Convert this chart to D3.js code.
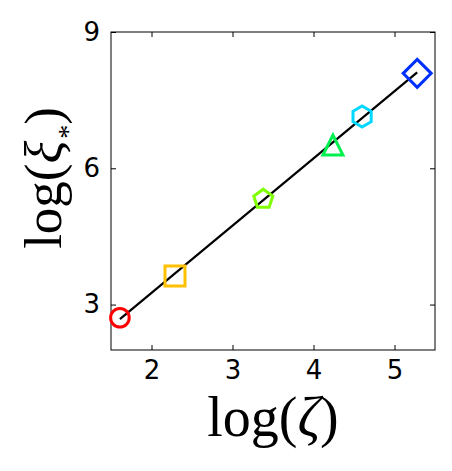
<!DOCTYPE html>
<html>
    <head>
        <script type="text/javascript" src="https://cdn.jsdelivr.net/npm/d3@7"></script>
        <style>
         body { margin: 0; background: #fff; }
        </style>
    </head>
    <body>
        <div id="viz"></div>

        <script type="text/javascript">

         // points
         var logZeta = [1.61, 2.29, 3.38, 4.24, 4.60, 5.28];
         var logXi = [2.71, 3.63, 5.32, 6.51, 7.14, 8.09];
         var shapes = ["circle", "square", "pentagon", "triangle", "hexagon", "diamond"];
         var colors = ["#ff0000", "#ffc000", "#80ff00", "#00f050", "#00d8ff", "#0030ff"];

         // fitted line ends
         var fitX = [1.61, 5.28];
         var fitY = [2.68, 8.11];

         var xTicks = [2, 3, 4, 5];
         var yTicks = [3, 6, 9];

         var W = 452, H = 471;
         // note: "top" is taken by window.top, so prefix these
         var pLeft = 111, pRight = 435, pTop = 32, pBottom = 350;

         var x = d3.scaleLinear().domain([1.5, 5.5]).range([pLeft, pRight]);
         var y = d3.scaleLinear().domain([2, 9]).range([pBottom, pTop]);

         var svg = d3.select("#viz").append("svg")
                     .attr("width", W)
                     .attr("height", H);

         /**
          * ticks go inward on all four sides, like old matplotlib
          */
         function styleAxis(g, hideText) {
             g.select(".domain").remove();
             g.selectAll(".tick line").attr("stroke", "#000").attr("stroke-width", 1);
             g.selectAll(".tick text")
              .attr("font-family", "DejaVu Sans")
              .attr("font-size", 26)
              .attr("fill", "#000");
             if (hideText) g.selectAll(".tick text").remove();
         }

         svg.append("g")
            .attr("transform", "translate(0," + pBottom + ")")
            .call(d3.axisBottom(x).tickValues(xTicks).tickFormat(d3.format("d"))
                    .tickSizeInner(-5).tickPadding(11))
            .call(styleAxis, false);

         svg.append("g")
            .attr("transform", "translate(0," + pTop + ")")
            .call(d3.axisTop(x).tickValues(xTicks).tickSizeInner(-5))
            .call(styleAxis, true);

         svg.append("g")
            .attr("transform", "translate(" + pLeft + ",0)")
            .call(d3.axisLeft(y).tickValues(yTicks).tickFormat(d3.format("d"))
                    .tickSizeInner(-5).tickPadding(11))
            .call(styleAxis, false);

         svg.append("g")
            .attr("transform", "translate(" + pRight + ",0)")
            .call(d3.axisRight(y).tickValues(yTicks).tickSizeInner(-5))
            .call(styleAxis, true);

         svg.append("rect")
            .attr("x", pLeft).attr("y", pTop)
            .attr("width", pRight - pLeft).attr("height", pBottom - pTop)
            .attr("fill", "none")
            .attr("stroke", "#000")
            .attr("stroke-width", 1);

         // fit line
         svg.append("line")
            .attr("x1", x(fitX[0])).attr("y1", y(fitY[0]))
            .attr("x2", x(fitX[1])).attr("y2", y(fitY[1]))
            .attr("stroke", "#000")
            .attr("stroke-width", 2.2);

         function polygon(n, r, rot) {
             var pts = [];
             for (var i = 0; i < n; i++) {
                 var a = rot + i * 2 * Math.PI / n;
                 pts.push([r * Math.sin(a), -r * Math.cos(a)]);
             }
             return "M" + pts.join("L") + "Z";
         }

         function markerPath(s) {
             if (s == "circle") return "M9.3,0A9.3,9.3 0 1,1 -9.3,0A9.3,9.3 0 1,1 9.3,0Z";
             if (s == "square") return "M-10,-10L10,-10L10,10L-10,10Z";
             if (s == "pentagon") return polygon(5, 10, 0);
             if (s == "triangle") return "M0,-10L10,10L-10,10Z";
             if (s == "hexagon") return polygon(6, 10.5, 0);
             if (s == "diamond") return polygon(4, 14, 0);
         }

         svg.selectAll("path.mark")
            .data(logZeta)
            .enter().append("path")
            .attr("class", "mark")
            .attr("d", function(d, i) { return markerPath(shapes[i]); })
            .attr("transform", function(d, i) { return "translate(" + x(d) + "," + y(logXi[i]) + ")"; })
            .attr("fill", "none")
            .attr("stroke", function(d, i) { return colors[i]; })
            .attr("stroke-width", 3);

         // axis titles
         var xt = svg.append("text")
                     .attr("x", (pLeft + pRight) / 2)
                     .attr("y", 436)
                     .attr("text-anchor", "middle")
                     .attr("font-family", "Liberation Serif")
                     .attr("font-size", 56)
                     .attr("fill", "#000");
         xt.append("tspan").text("log(");
         xt.append("tspan").attr("font-style", "italic").text("ζ");
         xt.append("tspan").text(")");

         // log(xi_*), the star sits low like a subscript
         var yt = svg.append("text")
                     .attr("transform", "translate(61,178) rotate(-90)")
                     .attr("text-anchor", "middle")
                     .attr("font-family", "Liberation Serif")
                     .attr("font-size", 53)
                     .attr("fill", "#000");
         yt.append("tspan").text("log(");
         yt.append("tspan").attr("font-style", "italic").text("ξ");
         yt.append("tspan").attr("font-size", 28).attr("dy", 16).attr("dx", 2).text("*");
         yt.append("tspan").attr("dy", -16).text(")");

        </script>
    </body>
</html>
